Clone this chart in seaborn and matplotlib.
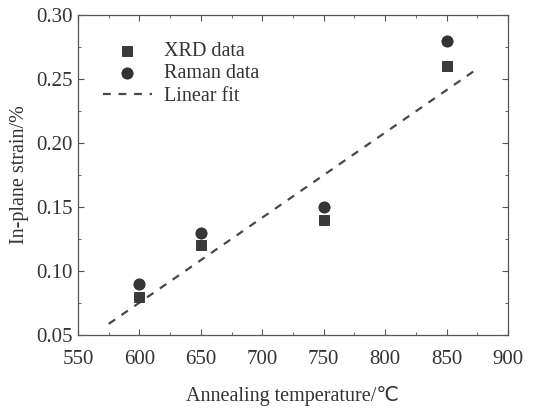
import numpy as np
import pandas as pd
import matplotlib
matplotlib.use("Agg")
import matplotlib.pyplot as plt
from matplotlib.ticker import MultipleLocator
import seaborn as sns

temps = [600, 650, 750, 850]
xrd = [0.08, 0.12, 0.14, 0.26]
raman = [0.09, 0.13, 0.15, 0.28]
fit_range = [575, 875]

sns.set_style("ticks")
plt.rcParams['font.family'] = ['Liberation Serif', 'DejaVu Serif']
plt.rcParams['mathtext.fontset'] = 'stix'

fig = plt.figure(figsize=(5.4, 4.09), dpi=100)
ax = fig.add_axes([0.1444, 0.181, 0.7963, 0.7823])

df_x = pd.DataFrame({"t": temps, "s": xrd})
df_r = pd.DataFrame({"t": temps, "s": raman})
sns.scatterplot(data=df_x, x="t", y="s", marker="s", s=48, color="#3a3a3a",
                edgecolor="#2a2a2a", linewidth=0.6, ax=ax, label="XRD data", zorder=3)
sns.scatterplot(data=df_r, x="t", y="s", marker="o", s=65, color="#353535",
                edgecolor="#2a2a2a", linewidth=0.6, ax=ax, label="Raman data", zorder=3)

k, b = np.polyfit(temps, xrd, 1)
fx = np.array(fit_range, dtype=float)
sns.lineplot(x=fx, y=k * fx + b, ax=ax, color="#484848", linestyle=(0, (3.5, 3.5)),
             linewidth=1.6, label="Linear fit")

ax.set_xlim(550, 900)
ax.set_ylim(0.05, 0.30)
ax.xaxis.set_major_locator(MultipleLocator(50))
ax.xaxis.set_minor_locator(MultipleLocator(25))
ax.yaxis.set_major_locator(MultipleLocator(0.05))
ax.yaxis.set_minor_locator(MultipleLocator(0.025))
ax.yaxis.set_major_formatter(matplotlib.ticker.FormatStrFormatter('%.2f'))
ax.tick_params(which='both', direction='in', top=True, right=True, color='#555555',
               labelsize=15, labelcolor='#333333')
ax.tick_params(which='major', length=4, width=0.8)
ax.tick_params(which='minor', length=2.5, width=0.6)
ax.tick_params(axis='x', which='major', pad=11)
ax.tick_params(axis='y', which='major', pad=4)
for sp in ax.spines.values():
    sp.set_color('#555555')
    sp.set_linewidth(0.9)

ax.set_xlabel("Annealing temperature/\u2103", fontsize=14.5, color='#333333', labelpad=12,
              family=['Liberation Serif', 'DejaVu Sans'])
ax.set_ylabel("In-plane strain/%", fontsize=14.5, color='#333333', labelpad=5)

leg = ax.legend(loc='upper left', bbox_to_anchor=(0.04, 0.94), frameon=False,
                fontsize=14.5, handlelength=2.4, handletextpad=0.6, labelspacing=0.15,
                borderaxespad=0)
for t in leg.get_texts():
    t.set_color('#333333')

fig.savefig("out.png", dpi=100)
